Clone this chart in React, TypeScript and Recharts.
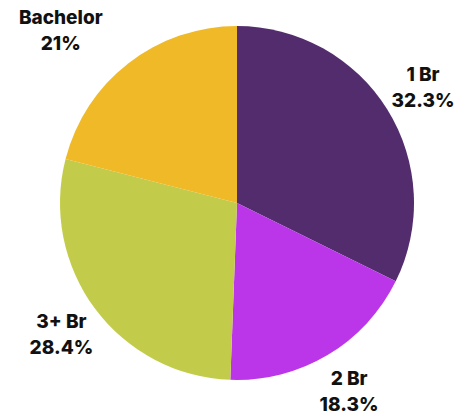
import { PieChart, Pie, Cell } from "recharts";

const categories = ["1 Br", "2 Br", "3+ Br", "Bachelor"];
const shares = [32.3, 18.3, 28.4, 21];
const shareLabels = ["32.3%", "18.3%", "28.4%", "21%"];
const colors = ["#532c6e", "#bb36e8", "#c3cc4a", "#f0b928"];

const data = categories.map((name, i) => ({ name, value: shares[i], label: shareLabels[i] }));

const RADIAN = Math.PI / 180;

const renderLabel = (props: any) => {
  const { cx, cy, midAngle, outerRadius, index } = props;
  const r = outerRadius + 42;
  let x = cx + r * Math.cos(-midAngle * RADIAN);
  let y = cy + r * Math.sin(-midAngle * RADIAN);
  if (index === 3) {
    // bachelor label sits further out to the left in the original
    x -= 42;
  }
  return (
    <text
      x={x}
      y={y}
      textAnchor="middle"
      fill="#111"
      fontFamily="Inter"
      fontWeight={800}
      fontSize={19}
    >
      <tspan x={x} dy={-6}>{categories[index]}</tspan>
      <tspan x={x} dy={26}>{shareLabels[index]}</tspan>
    </text>
  );
};

const App = () => {
  return (
    <div style={{ position: "absolute", left: 0, top: 0 }}>
      <PieChart width={461} height={414}>
        <Pie
          data={data}
          dataKey="value"
          nameKey="name"
          cx={232}
          cy={198}
          outerRadius={177}
          startAngle={90}
          endAngle={-270}
          stroke="none"
          label={renderLabel}
          labelLine={false}
          isAnimationActive={false}
        >
          {data.map((d, i) => (
            <Cell key={d.name} fill={colors[i]} />
          ))}
        </Pie>
      </PieChart>
    </div>
  );
};

export default App;
